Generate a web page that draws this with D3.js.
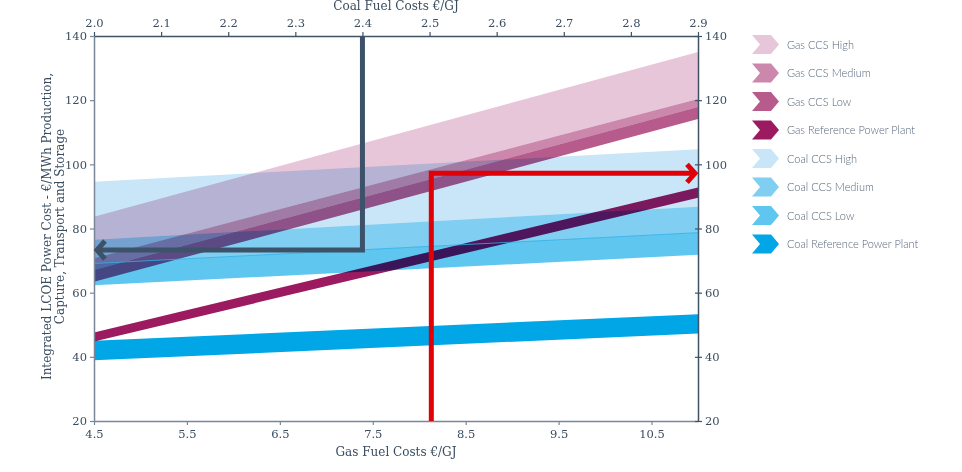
<!DOCTYPE html>
<html>
<head>
<meta charset="utf-8">
<script src="https://cdn.jsdelivr.net/npm/d3@7"></script>
<style>
  body { margin: 0; background: #fff; }
  svg { display: block; }
  .tick text { font-family: 'DejaVu Serif', serif; font-size: 11.5px; fill: #3a4c60; }
  .title { font-family: 'DejaVu Serif', serif; font-size: 12px; fill: #3a4c60; }
  .legend text { font-family: Lato, 'Open Sans', sans-serif; font-weight: 300; font-size: 11px; fill: #56667a; }
</style>
</head>
<body>
<div id="chart"></div>
<script>
// Gas fuel cost at the two ends of every band (€/GJ)
const gasCost = [4.5, 11.0]

// Bands, in legend order
const seriesNames = [
  'Gas CCS High', 'Gas CCS Medium', 'Gas CCS Low', 'Gas Reference Power Plant',
  'Coal CCS High', 'Coal CCS Medium', 'Coal CCS Low', 'Coal Reference Power Plant'
]
// LCOE (€/MWh) of the lower and upper edge at gasCost[0] and gasCost[1]
const lowerEdge = [
  [70.7, 120.4], [67.1, 117.9], [63.4, 114.1], [44.8, 89.6],
  [76.5, 86.8], [69.1, 78.7], [62.3, 71.8], [38.9, 47.3]
]
const upperEdge = [
  [83.7, 135.0], [70.7, 120.4], [67.1, 117.9], [47.6, 92.8],
  [94.6, 104.7], [76.5, 86.8], [69.1, 78.7], [45.0, 53.3]
]
const seriesColors = [
  '#e8c6da', '#cc88ac', '#b75b8c', '#9c1b60',
  '#c8e6f7', '#80cff3', '#5fc6ef', '#00a6e6'
]

// Axis ticks
const gasTicks = [4.5, 5.5, 6.5, 7.5, 8.5, 9.5, 10.5]
const coalTicks = [2.0, 2.1, 2.2, 2.3, 2.4, 2.5, 2.6, 2.7, 2.8, 2.9]
const lcoeTicks = [20, 40, 60, 80, 100, 120, 140]

// Reading guides: coal at 2.4 €/GJ -> 73.3 €/MWh, gas at 8.13 €/GJ -> 97.2 €/MWh
const coalGuide = { cost: 2.4, lcoe: 73.3 }
const gasGuide = { cost: 8.13, lcoe: 97.2 }

const width = 962
const height = 472
const plot = { left: 94, right: 698, top: 36, bottom: 421 }

const svg = d3.select('#chart').append('svg')
  .attr('width', width)
  .attr('height', height)

const x = d3.scaleLinear().domain([4.5, 11]).range([plot.left, plot.right])
const xCoal = d3.scaleLinear().domain([2.0, 2.9]).range([plot.left, plot.right])
const y = d3.scaleLinear().domain([20, 140]).range([plot.bottom, plot.top])

// --- BANDS ---
const area = d3.area()
  .x(d => x(d.x))
  .y0(d => y(d.lo))
  .y1(d => y(d.hi))

const bandOrder = [7, 6, 5, 4, 3, 2, 1, 0] // coal underneath, gas on top
const bands = svg.append('g').attr('class', 'bands')
bandOrder.forEach(i => {
  const pts = gasCost.map((g, k) => ({ x: g, lo: lowerEdge[i][k], hi: upperEdge[i][k] }))
  bands.append('path')
    .attr('d', area(pts))
    .style('fill', seriesColors[i])
    .style('mix-blend-mode', 'multiply')
})

// thin line on top of Coal CCS Low
bands.append('path')
  .attr('d', d3.line()(gasCost.map((g, k) => [x(g), y(upperEdge[6][k])])))
  .style('fill', 'none')
  .style('stroke', '#2fb0e8')
  .style('stroke-width', 0.8)

// --- AXES ---
const styleAxis = (g, color) => {
  g.select('.domain').attr('stroke', color).attr('stroke-width', 1.5)
  g.selectAll('.tick line').attr('stroke', color).attr('stroke-width', 1.2)
}

svg.append('g')
  .attr('transform', `translate(0,${plot.bottom})`)
  .call(d3.axisBottom(x).tickValues(gasTicks).tickFormat(d3.format('.1f')).tickSize(4).tickSizeOuter(0))
  .call(g => styleAxis(g, '#7a8796'))
  .call(g => g.selectAll('.tick text').attr('dy', '0.9em'))

svg.append('g')
  .attr('transform', `translate(${plot.left},0)`)
  .call(d3.axisLeft(y).tickValues(lcoeTicks).tickSize(4).tickSizeOuter(0))
  .call(g => styleAxis(g, '#7a8796'))

svg.append('g')
  .attr('transform', `translate(0,${plot.top})`)
  .call(d3.axisTop(xCoal).tickValues(coalTicks).tickFormat(d3.format('.1f')).tickSize(4).tickSizeOuter(0))
  .call(g => styleAxis(g, '#3f5266'))
  .call(g => g.selectAll('.tick text').attr('dy', '-0.2em'))

svg.append('g')
  .attr('transform', `translate(${plot.right},0)`)
  .call(d3.axisRight(y).tickValues(lcoeTicks).tickSize(4).tickSizeOuter(0))
  .call(g => styleAxis(g, '#3f5266'))
  .call(g => g.selectAll('.tick line').attr('x1', -3))

// --- GUIDES ---
const guides = svg.append('g').attr('class', 'guides')
  .style('fill', 'none')
  .style('stroke-width', 5)

guides.append('path')
  .attr('d', d3.line()([
    [xCoal(coalGuide.cost), y(140)],
    [xCoal(coalGuide.cost), y(coalGuide.lcoe)],
    [x(4.5) + 3, y(coalGuide.lcoe)]
  ]))
  .style('stroke', '#3b5268')
guides.append('path')
  .attr('d', d3.line()([
    [x(4.5) + 11, y(coalGuide.lcoe) - 9],
    [x(4.5) + 3, y(coalGuide.lcoe)],
    [x(4.5) + 11, y(coalGuide.lcoe) + 9]
  ]))
  .style('stroke', '#3b5268')

guides.append('path')
  .attr('d', d3.line()([
    [x(gasGuide.cost), y(20)],
    [x(gasGuide.cost), y(gasGuide.lcoe)],
    [x(11) - 3, y(gasGuide.lcoe)]
  ]))
  .style('stroke', '#e00008')
guides.append('path')
  .attr('d', d3.line()([
    [x(11) - 11, y(gasGuide.lcoe) - 9],
    [x(11) - 3, y(gasGuide.lcoe)],
    [x(11) - 11, y(gasGuide.lcoe) + 9]
  ]))
  .style('stroke', '#e00008')

// --- TITLES ---
const midX = (plot.left + plot.right) / 2
svg.append('text').attr('class', 'title')
  .attr('x', midX).attr('y', 10)
  .attr('text-anchor', 'middle')
  .text('Coal Fuel Costs €/GJ')

svg.append('text').attr('class', 'title')
  .attr('x', midX).attr('y', 456)
  .attr('text-anchor', 'middle')
  .text('Gas Fuel Costs €/GJ')

const yTitle = svg.append('text').attr('class', 'title')
  .attr('transform', `translate(51,${(plot.top + plot.bottom) / 2 - 2}) rotate(-90)`)
  .attr('text-anchor', 'middle')
yTitle.append('tspan').attr('x', 0).attr('dy', 0).text('Integrated LCOE Power  Cost - €/MWh Production,')
yTitle.append('tspan').attr('x', 0).attr('dy', '1.05em').text('Capture, Transport and Storage')

// --- LEGEND ---
const chevron = (w, h, n) => `M0,0 L${w - n},0 L${w},${h / 2} L${w - n},${h} L0,${h} L${n},${h / 2} Z`
const legend = svg.append('g').attr('class', 'legend')
  .attr('transform', 'translate(752,35)')

const rows = legend.selectAll('g')
  .data(seriesNames)
  .enter().append('g')
  .attr('transform', (d, i) => `translate(0,${i * 28.5})`)

rows.append('path')
  .attr('d', chevron(27, 19, 8))
  .style('fill', (d, i) => seriesColors[i])

rows.append('text')
  .attr('x', 35)
  .attr('y', 10)
  .attr('dy', '0.35em')
  .text(d => d)
</script>
</body>
</html>
